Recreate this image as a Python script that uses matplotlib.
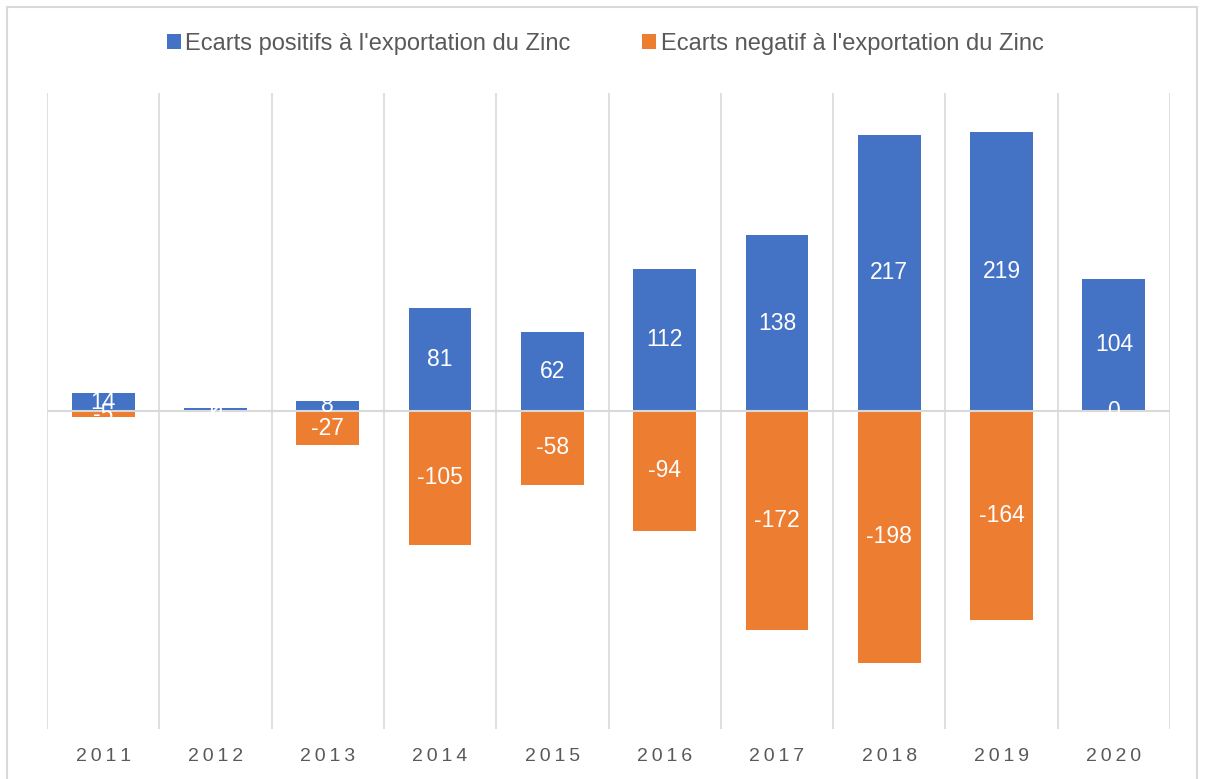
import matplotlib.pyplot as plt
import numpy as np

# ===== DATA =====
years = ["2011", "2012", "2013", "2014", "2015", "2016", "2017", "2018", "2019", "2020"]
positive = [14, 2, 8, 81, 62, 112, 138, 217, 219, 104]
negative = [-5, 0, -27, -105, -58, -94, -172, -198, -164, 0]

pos_label = "Ecarts positifs à l'exportation du Zinc"
neg_label = "Ecarts negatif à l'exportation du Zinc"

blue = "#4472C4"
orange = "#ED7D31"
grid_col = "#D9D9D9"
text_col = "#595959"

plt.rcParams["font.family"] = ["Liberation Sans", "DejaVu Sans"]

fig = plt.figure(figsize=(12.1, 7.79), dpi=100)
ax = fig.add_axes([47 / 1210, 50 / 779, (1170 - 47) / 1210, (729 - 93) / 779])

x = np.arange(len(years))
width = 0.56
b1 = ax.bar(x, positive, width, color=blue, label=pos_label, zorder=2)
b2 = ax.bar(x, negative, width, color=orange, label=neg_label, zorder=2)

# value labels, centred in the bars
for bars, vals in ((b1, positive), (b2, negative)):
    for rect, v in zip(bars, vals):
        ax.text(rect.get_x() + rect.get_width() / 2, v / 2, f"{v}",
                ha="center", va="center", color="white", fontsize=16.5, zorder=4)

ax.set_xlim(-0.5, len(years) - 0.5)
ax.set_ylim(-250, 250)

# category separators
for xs in np.arange(-0.5, len(years), 1.0):
    ax.axvline(xs, color=grid_col, lw=1.2, zorder=1)
ax.axhline(0, color=grid_col, lw=1.5, zorder=3)

ax.set_yticks([])
ax.set_xticks([])
for sp in ax.spines.values():
    sp.set_visible(False)

# year labels, slightly letter-spaced
for i, yr in enumerate(years):
    ax.text(i, -0.044, "\u2009".join(yr), transform=ax.get_xaxis_transform(),
            ha="center", va="center", fontsize=14, color=text_col)

leg = fig.legend(loc="center", bbox_to_anchor=(0.5, 1 - 44 / 779), ncol=2,
                 frameon=False, fontsize=17, handlelength=0.6, handleheight=0.6,
                 handletextpad=0.2, columnspacing=3.0, labelcolor=text_col)

# chart border
fig.patches.append(plt.Rectangle((7 / 1210, -0.01), 1190 / 1210, 1 - 7 / 779 + 0.01,
                                 transform=fig.transFigure, fill=False,
                                 edgecolor=grid_col, lw=1.5))

fig.savefig("out.png", dpi=100)
